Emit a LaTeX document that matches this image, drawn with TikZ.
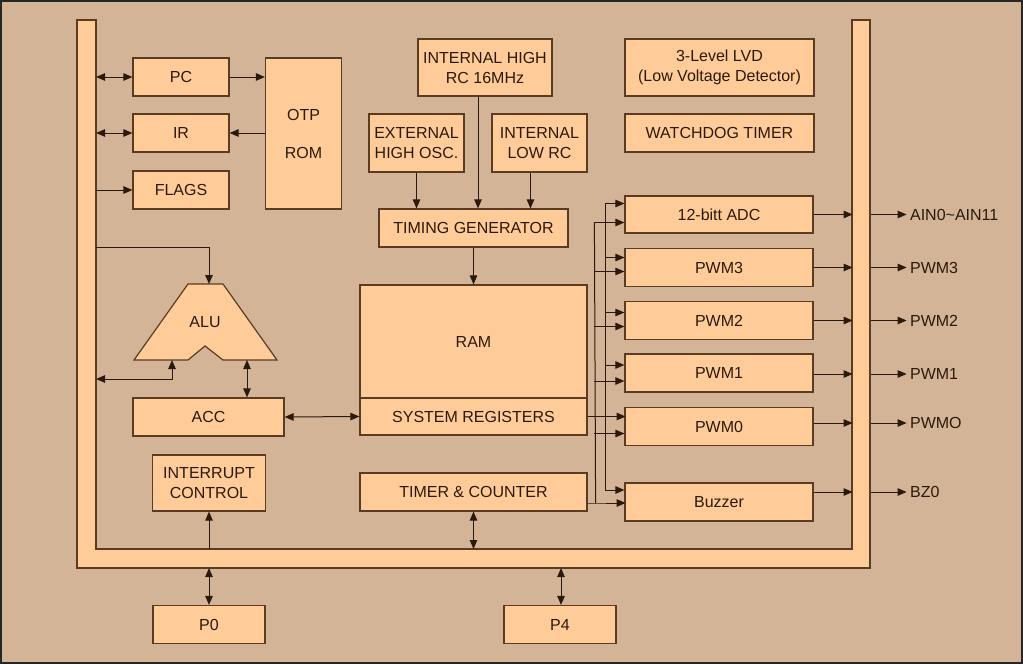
\documentclass[tikz,border=0pt]{standalone}
\usepackage{fontspec}
\setmainfont{Liberation Sans}
\usetikzlibrary{arrows.meta}

\definecolor{bgtan}{HTML}{D4B496}
\definecolor{blkfill}{HTML}{FFCC99}
\definecolor{blkline}{HTML}{5A3C22}
\definecolor{txtcol}{HTML}{2B1A0C}

\begin{document}
\begin{tikzpicture}[x = 1pt, y = -1pt, > = {Triangle[length=9pt, width=7.5pt]}, line width = 1pt, color = txtcol,
    every node/.style = {font=\fontsize{16}{20}\selectfont, text=txtcol, align=center, inner sep=0pt},
    blk/.style = {draw=blkline, fill=blkfill, line width=1.2pt, rectangle}]
    \fill[bgtan] (0,0) rectangle (1023,664);
    \useasboundingbox (0,0) rectangle (1023,664);
    \draw[black!85, line width=1.5pt] (1,1) rectangle (1022,663);

    % bus
    \filldraw[fill=blkfill, draw=blkline, line width=1.2pt] (77,20) -- (77,568) -- (870,568) -- (870,20) -- (852,20)
        -- (852,549) -- (96,549) -- (96,20) -- cycle;
    \coordinate (lbus) at (96,0);
    \coordinate (rbus) at (852,0);
    \coordinate (bbus) at (0,549);
    \coordinate (bbusout) at (0,568);

    \node[blk, minimum width=96, minimum height=38] (pc) at (181,77) {PC};
    \node[blk, minimum width=96, minimum height=38] (ir) at (181,133) {IR};
    \node[blk, minimum width=96, minimum height=38] (flags) at (181,190) {FLAGS};
    \node[blk, minimum width=76, minimum height=151] (otp) at (303.5,133.5) {OTP\\[18pt]ROM};

    \node[blk, minimum width=134, minimum height=57] (inthigh) at (485,67.5) {INTERNAL HIGH\\RC 16MHz};
    \node[blk, minimum width=95, minimum height=58] (exthigh) at (416.5,143) {EXTERNAL\\HIGH OSC.};
    \node[blk, minimum width=95, minimum height=58] (intlow) at (539.5,143) {INTERNAL\\LOW RC};
    \node[blk, minimum width=189, minimum height=38] (timing) at (473.5,228) {TIMING GENERATOR};
    \node[blk, minimum width=227, minimum height=113] (ram) at (473.5,341.5) {RAM};
    \node[blk, minimum width=227, minimum height=37] (sysreg) at (473.5,416.5) {SYSTEM REGISTERS};
    \node[blk, minimum width=227, minimum height=38] (timer) at (473.5,492) {TIMER \& COUNTER};

    \node[blk, minimum width=189, minimum height=57] (lvd) at (719.5,67.5) {3-Level LVD\\(Low Voltage Detector)};
    \node[blk, minimum width=189, minimum height=38] (wdt) at (719.5,133) {WATCHDOG TIMER};
    \node[blk, minimum width=188, minimum height=37] (adc) at (719,214.5) {12-bitt ADC};
    \node[blk, minimum width=188, minimum height=38] (pwm3) at (719,267.5) {PWM3};
    \node[blk, minimum width=188, minimum height=38] (pwm2) at (719,320.5) {PWM2};
    \node[blk, minimum width=188, minimum height=38] (pwm1) at (719,373) {PWM1};
    \node[blk, minimum width=188, minimum height=38] (pwm0) at (719,426.5) {PWM0};
    \node[blk, minimum width=188, minimum height=38] (buz) at (719,502) {Buzzer};

    \node[blk, minimum width=151, minimum height=38] (acc) at (208.5,417) {ACC};
    \node[blk, minimum width=113, minimum height=56] (intctl) at (209,483) {INTERRUPT\\CONTROL};
    \node[blk, minimum width=112, minimum height=38] (p0) at (209,624.5) {P0};
    \node[blk, minimum width=112, minimum height=38] (p4) at (560,624.5) {P4};

    % ALU
    \filldraw[fill=blkfill, draw=blkline, line width=1.2pt] (188,284) -- (223,284) -- (277,360) -- (223,360)
        -- (205,346) -- (188,360) -- (134,360) -- cycle;
    \node (alu) at (205,322) {ALU};
    \coordinate (aluturn) at (209,247);
    \coordinate (alutop) at (209,284);
    \coordinate (aluleft) at (172,360);
    \coordinate (alufb) at (172,379);
    \coordinate (aluright) at (247,360);

    \draw[<->] (pc.west -| lbus) -- (pc.west);
    \draw[<->] (ir.west -| lbus) -- (ir.west);
    \draw[->] (flags.west -| lbus) -- (flags.west);
    \draw[->] (pc.east) -- (pc.east -| otp.west);
    \draw[->] (ir.east -| otp.west) -- (ir.east);

    \draw[->] (exthigh.south) -- (exthigh.south |- timing.north);
    \draw[->] ([xshift=-7]inthigh.south) -- ([xshift=-7]inthigh.south |- timing.north);
    \draw[->] ([xshift=-9]intlow.south) -- ([xshift=-9]intlow.south |- timing.north);
    \draw[->] (timing.south) -- (ram.north);

    \draw[->] (aluturn -| lbus) -- (aluturn) -- (alutop);
    \draw[<->] (aluleft) -- (alufb) -- (alufb -| lbus);
    \draw[<->] (aluright) -- (aluright |- acc.north);
    \draw[<->] (acc.east) -- (sysreg.west);

    \draw[->] (intctl.south |- bbus) -- (intctl.south);
    \draw[<->] (timer.south) -- (timer.south |- bbus);
    \draw[<->] (p0.north |- bbusout) -- (p0.north);
    \draw[<->] ([xshift=1]p4.north |- bbusout) -- ([xshift=1]p4.north);

    % fan-out to peripherals
    \draw[<-] ([yshift=11]adc.west) -- ++(-19,0) coordinate (fatop);
    \draw[<-] ([yshift=12]buz.west) -- ++(-19,0) coordinate (fabot);
    \draw (fatop) -- (fabot);
    \draw[<-] ([yshift=-8]adc.west) -- ++(-30,0) coordinate (fbtop);
    \draw[->] ([yshift=-11]timer.east) -- ++(8,0) coordinate (fbbot) -- ++(30,0);
    \draw (fbtop) -- (fbbot);
    \foreach \b/\u/\l in {pwm3/10/-4, pwm2/8/-6, pwm1/8/-8} {
        \draw[<-] ([yshift=\u]\b.west) -- ++(-19,0);
        \draw[<-] ([yshift=\l]\b.west) -- ++(-30,0);
    }
    \draw[<-] ([yshift=-7]pwm0.west) -- ++(-30,0);
    \draw[->] (sysreg.east) -- ++(38,0);

    % outputs
    \foreach \b/\s/\t in {adc/0/AIN0\textasciitilde AIN11, pwm3/0/PWM3, pwm2/0/PWM2, pwm1/-1/PWM1, pwm0/3.5/PWMO, buz/10/BZ0} {
        \draw[->] ([yshift=\s]\b.east) -- ++(39,0);
        \draw[->] ([yshift=\s]\b.east) ++(57,0) -- ++(36,0) node[right=3pt] (o\b) {\t};
    }
\end{tikzpicture}
\end{document}
